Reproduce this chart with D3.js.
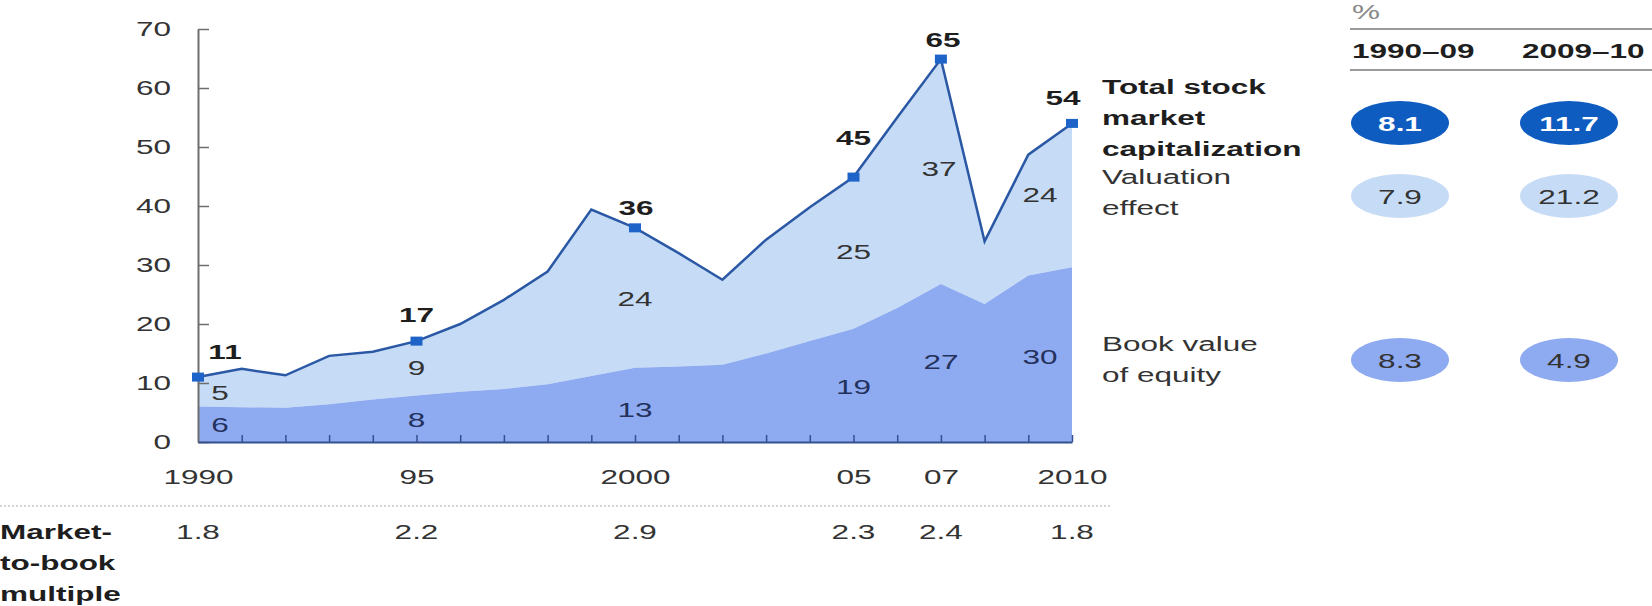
<!DOCTYPE html>
<html>
<head>
<meta charset="utf-8">
<script src="https://cdn.jsdelivr.net/npm/d3@7"></script>
<style>
  html, body { margin: 0; padding: 0; background: #fff; }
  svg { display: block; }
  text { font-family: "Liberation Sans", Arial, Helvetica, sans-serif; }
</style>
</head>
<body>
<svg id="chart" width="1652" height="606"></svg>
<script>
// ---------------- data ----------------
const years = d3.range(1990, 2011);
const totalCap = [11.0, 12.4, 11.3, 14.6, 15.3, 17.1, 20.0, 24.1, 28.9, 39.4, 36.3,
                  32.0, 27.5, 34.3, 39.8, 44.9, 55.0, 64.9, 34.0, 48.7, 54.0];
const bookValue = [6.0, 5.9, 5.8, 6.4, 7.2, 7.9, 8.5, 9.0, 9.8, 11.2, 12.6,
                   12.8, 13.1, 15.0, 17.1, 19.2, 22.7, 26.8, 23.4, 28.2, 29.6];

const labelYears = [1990, 1995, 2000, 2005, 2007, 2010];
const totalLabels = [11, 17, 36, 45, 65, 54];
const valuationLabels = [5, 9, 24, 25, 37, 24];
const bookLabels = [6, 8, 13, 19, 27, 30];
const multiples = ["1.8", "2.2", "2.9", "2.3", "2.4", "1.8"];
const xTickLabels = ["1990", "95", "2000", "05", "07", "2010"];
const yTicks = [0, 10, 20, 30, 40, 50, 60, 70];

const legendTotal = ["Total stock", "market", "capitalization"];
const legendValuation = ["Valuation", "effect"];
const legendBook = ["Book value", "of equity"];
const multipleLabel = ["Market-", "to-book", "multiple"];
const tableUnit = "%";
const periods = ["1990–09", "2009–10"];
const growthTotal = ["8.1", "11.7"];
const growthValuation = ["7.9", "21.2"];
const growthBook = ["8.3", "4.9"];

// ---------------- style / layout ----------------
const SX = 1.5, FS = 21;
const C = {
  light: "#c6dcf6", dark: "#8eaaf1", line: "#2b58a5", marker: "#1d63c8",
  axisY: "#6e6e6e", axisX: "#34508f", text: "#333", bold: "#1e1e1e",
  pillDark: "#0f5cc0", bookText: "#23315c"
};
// label offsets (dx, baseline dy) per labelled year
const totalOff = [[27, -18], [0, -19], [1, -13], [0, -32], [2, -12], [-9, -18]];
const valOff = [[22, 8], [0, 7], [0, 8], [0, 6], [-2, 5], [-32, 7]];
const bookOff = [[22, 8], [0, 8], [0, 12], [0, 9], [0, 6], [-32, 9]];

const svg = d3.select("#chart");

const x = d3.scaleLinear().domain([1990, 2010]).range([198, 1072]);
const y = d3.scaleLinear().domain([0, 70]).range([442, 29]);

function T(g, px, py, str, o = {}) {
  return g.append("text")
    .attr("transform", `translate(${px},${py}) scale(${SX},1)`)
    .attr("text-anchor", o.anchor || "start")
    .attr("font-size", o.size || FS)
    .attr("font-weight", o.bold ? "bold" : "normal")
    .attr("fill", o.fill || C.text)
    .text(str);
}

const data = years.map((yr, i) => ({ yr, total: totalCap[i], book: bookValue[i] }));

// areas
svg.append("path").datum(data)
  .attr("fill", C.light)
  .attr("d", d3.area().x(d => x(d.yr)).y0(d => y(d.book)).y1(d => y(d.total)));
svg.append("path").datum(data)
  .attr("fill", C.dark)
  .attr("d", d3.area().x(d => x(d.yr)).y0(y(0)).y1(d => y(d.book)));

// y axis
const gy = svg.append("g").attr("transform", `translate(${x(1990)},0)`)
  .call(d3.axisLeft(y).tickValues(yTicks).tickSizeInner(-11).tickSizeOuter(0).tickPadding(27));
gy.select(".domain").attr("stroke", C.axisY).attr("stroke-width", 2);
gy.selectAll(".tick line").attr("stroke", C.axisY).attr("stroke-width", 1.5);
gy.selectAll(".tick text")
  .attr("x", -27 / SX).attr("transform", `scale(${SX},1)`)
  .attr("font-size", FS).attr("fill", C.text)
  .style("font-family", '"Liberation Sans", Arial, sans-serif');

// x axis tick marks
const gx = svg.append("g").attr("transform", `translate(0,${y(0)})`)
  .call(d3.axisBottom(x).tickValues(years.slice(1)).tickSizeInner(-7).tickSizeOuter(0).tickFormat(""));
gx.select(".domain").attr("stroke", C.axisX).attr("stroke-width", 2);
gx.selectAll(".tick line").attr("stroke", C.axisX).attr("stroke-width", 1.5);

// x axis labels
const gxl = svg.append("g").attr("transform", `translate(0,${y(0)})`)
  .call(d3.axisBottom(x).tickValues(labelYears).tickSize(0).tickPadding(27)
    .tickFormat((d, i) => xTickLabels[i]));
gxl.select(".domain").remove();
gxl.selectAll(".tick text")
  .attr("transform", `scale(${SX},1)`)
  .attr("font-size", FS).attr("fill", C.text)
  .style("font-family", '"Liberation Sans", Arial, sans-serif');

// total line
svg.append("path").datum(data)
  .attr("fill", "none").attr("stroke", C.line).attr("stroke-width", 2.5)
  .attr("stroke-linejoin", "miter")
  .attr("d", d3.line().x(d => x(d.yr)).y(d => y(d.total)));

// markers
labelYears.forEach((yr) => {
  const v = totalCap[years.indexOf(yr)];
  svg.append("rect")
    .attr("x", x(yr) - 6).attr("y", y(v) - 4.5)
    .attr("width", 12).attr("height", 9)
    .attr("fill", C.marker);
});

// value labels
const gl = svg.append("g");
labelYears.forEach((yr, i) => {
  const idx = years.indexOf(yr);
  const tot = totalCap[idx], bk = bookValue[idx];
  T(gl, x(yr) + totalOff[i][0], y(tot) + totalOff[i][1], totalLabels[i], { anchor: "middle", bold: true, fill: C.bold });
  T(gl, x(yr) + valOff[i][0], y((tot + bk) / 2) + valOff[i][1], valuationLabels[i], { anchor: "middle", fill: C.text });
  T(gl, x(yr) + bookOff[i][0], y(bk / 2) + bookOff[i][1], bookLabels[i], { anchor: "middle", fill: C.bookText });
});

// separator & market-to-book row
svg.append("line").attr("x1", 0).attr("x2", 1112).attr("y1", 506).attr("y2", 506)
  .attr("stroke", "#c8c8c8").attr("stroke-width", 1.5).attr("stroke-dasharray", "2,2");
const gm = svg.append("g");
multipleLabel.forEach((s, i) => T(gm, 0, 539 + i * 31, s, { bold: true, fill: C.bold }));
labelYears.forEach((yr, i) => T(gm, x(yr), 539, multiples[i], { anchor: "middle" }));

// legend text
const gLeg = svg.append("g");
legendTotal.forEach((s, i) => T(gLeg, 1102, 94 + i * 31, s, { bold: true, fill: C.bold }));
legendValuation.forEach((s, i) => T(gLeg, 1102, 184 + i * 31, s));
legendBook.forEach((s, i) => T(gLeg, 1102, 351 + i * 31, s));

// growth table
const gt = svg.append("g");
T(gt, 1352, 19, tableUnit, { fill: "#888" });
gt.append("line").attr("x1", 1350).attr("x2", 1652).attr("y1", 29).attr("y2", 29)
  .attr("stroke", "#9a9a9a").attr("stroke-width", 2);
gt.append("line").attr("x1", 1350).attr("x2", 1652).attr("y1", 70).attr("y2", 70)
  .attr("stroke", "#9a9a9a").attr("stroke-width", 2);
const colX = [1352, 1522];
const pillX = [1400, 1569];
periods.forEach((p, i) => T(gt, colX[i], 58, p, { bold: true, fill: C.bold }));
const rows = [
  { vals: growthTotal, cy: 123, fill: C.pillDark, tf: "#fff", bold: true },
  { vals: growthValuation, cy: 196, fill: C.light, tf: C.text, bold: false },
  { vals: growthBook, cy: 360, fill: C.dark, tf: C.text, bold: false }
];
rows.forEach(r => {
  r.vals.forEach((v, i) => {
    gt.append("ellipse").attr("cx", pillX[i]).attr("cy", r.cy)
      .attr("rx", 49).attr("ry", 22).attr("fill", r.fill);
    T(gt, pillX[i], r.cy + 7.5, v, { anchor: "middle", bold: r.bold, fill: r.tf });
  });
});
</script>
</body>
</html>
